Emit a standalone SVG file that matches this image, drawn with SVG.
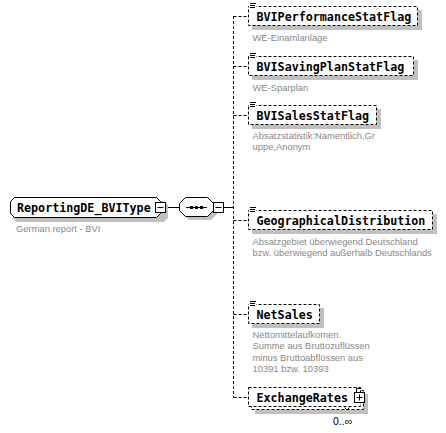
<svg xmlns="http://www.w3.org/2000/svg" width="446" height="433" viewBox="0 0 446 433">
<style>
.bg{fill:#fff}
.sh{fill:#c0c0c0}
.box{fill:#fff;stroke:#000;stroke-width:1}
.opt{fill:#fff;stroke:#000;stroke-width:1;stroke-dasharray:3,2}
.name{font-family:"DejaVu Sans Mono","Liberation Mono",monospace;font-weight:bold;font-size:11.7px;fill:#000}
.desc{font-family:"Liberation Sans","DejaVu Sans",sans-serif;font-size:9.4px;fill:#888}
.occ{font-family:"Liberation Sans","DejaVu Sans",sans-serif;font-size:10.5px;fill:#000}
.ln{stroke:#000;stroke-width:1;fill:none}
.dl{stroke:#000;stroke-width:1;fill:none;stroke-dasharray:3,2}
.ic{stroke:#000;stroke-width:1}
</style>
<rect class="bg" x="0" y="0" width="446" height="433"/>
<g id="connectors">
  <line class="ln" x1="165.5" y1="207.5" x2="179.5" y2="207.5"/>
  <line class="ln" x1="223.5" y1="207.5" x2="233.5" y2="207.5"/>
  <line class="dl" x1="233.5" y1="16" x2="233.5" y2="397"/>
  <line class="dl" x1="233.5" y1="16.5" x2="248.5" y2="16.5"/>
  <line class="dl" x1="233.5" y1="66.5" x2="248.5" y2="66.5"/>
  <line class="dl" x1="233.5" y1="115.5" x2="248.5" y2="115.5"/>
  <line class="dl" x1="233.5" y1="220.5" x2="248.5" y2="220.5"/>
  <line class="dl" x1="233.5" y1="314.5" x2="248.5" y2="314.5"/>
  <line class="dl" x1="233.5" y1="397.5" x2="248.5" y2="397.5"/>
</g>
<g id="root">
  <path class="sh" d="M17 201 H164 L168 205 V218 L164 222 H17 L13 218 V205 Z"/>
  <path class="box" d="M14.5 197.5 H156.5 L160.5 201.5 V213.5 L156.5 217.5 H14.5 L10.5 213.5 V201.5 Z"/>
  <text class="name" x="17" y="212">ReportingDE_BVIType</text>
  <rect class="box" x="155.5" y="202.5" width="10" height="10"/>
  <line class="ln" x1="157.5" y1="207.5" x2="163.5" y2="207.5"/>
  <text class="desc" x="16" y="232">German report - BVI</text>
</g>
<g id="sequence">
  <path class="sh" d="M189 201 H211 L217 207 V214 L211 220 H189 L183 214 V207 Z"/>
  <path class="box" d="M185.5 197.5 H207.5 L213.5 203.5 V210.5 L207.5 216.5 H185.5 L179.5 210.5 V203.5 Z"/>
  <line class="ln" x1="186" y1="207.5" x2="207" y2="207.5"/>
  <rect x="190" y="206" width="3" height="3" fill="#000"/>
  <rect x="195" y="206" width="3" height="3" fill="#000"/>
  <rect x="200" y="206" width="3" height="3" fill="#000"/>
  <rect class="box" x="213.5" y="202.5" width="10" height="10"/>
  <line class="ln" x1="215.5" y1="207.5" x2="221.5" y2="207.5"/>
</g>
<g id="BVIPerformanceStatFlag">
  <rect class="sh" x="252" y="10" width="170" height="20"/>
  <rect class="opt" x="248.5" y="6.5" width="169" height="19"/>
  <rect class="bg" x="249" y="2" width="7" height="7"/>
  <line class="ic" x1="250" y1="3.5" x2="256" y2="3.5"/><line class="ic" x1="250" y1="5.5" x2="255" y2="5.5"/><line class="ic" x1="250" y1="7.5" x2="255" y2="7.5"/>
  <text class="name" x="256.5" y="20.5">BVIPerformanceStatFlag</text>
  <text class="desc" x="252.5" y="41">WE-Einamlanlage</text>
</g>
<g id="BVISavingPlanStatFlag">
  <rect class="sh" x="252" y="60" width="166" height="20"/>
  <rect class="opt" x="248.5" y="56.5" width="165" height="19"/>
  <rect class="bg" x="249" y="52" width="7" height="7"/>
  <line class="ic" x1="250" y1="53.5" x2="256" y2="53.5"/><line class="ic" x1="250" y1="55.5" x2="255" y2="55.5"/><line class="ic" x1="250" y1="57.5" x2="255" y2="57.5"/>
  <text class="name" x="256.5" y="70.5">BVISavingPlanStatFlag</text>
  <text class="desc" x="252.5" y="91">WE-Sparplan</text>
</g>
<g id="BVISalesStatFlag">
  <rect class="sh" x="252" y="109" width="129" height="20"/>
  <rect class="opt" x="248.5" y="105.5" width="128" height="19"/>
  <rect class="bg" x="249" y="101" width="7" height="7"/>
  <line class="ic" x1="250" y1="102.5" x2="256" y2="102.5"/><line class="ic" x1="250" y1="104.5" x2="255" y2="104.5"/><line class="ic" x1="250" y1="106.5" x2="255" y2="106.5"/>
  <text class="name" x="256.5" y="119.5">BVISalesStatFlag</text>
  <text class="desc" x="252.5" y="139">Absatzstatistik:Namentlich,Gr</text>
  <text class="desc" x="252.5" y="150">uppe,Anonym</text>
</g>
<g id="GeographicalDistribution">
  <rect class="sh" x="252" y="214" width="185" height="20"/>
  <rect class="opt" x="248.5" y="210.5" width="184" height="19"/>
  <rect class="bg" x="249" y="206" width="7" height="7"/>
  <line class="ic" x1="250" y1="207.5" x2="256" y2="207.5"/><line class="ic" x1="250" y1="209.5" x2="255" y2="209.5"/><line class="ic" x1="250" y1="211.5" x2="255" y2="211.5"/>
  <text class="name" x="256.5" y="224.5">GeographicalDistribution</text>
  <text class="desc" x="252.5" y="245">Absatzgebiet überwiegend Deutschland</text>
  <text class="desc" x="252.5" y="256">bzw. überwiegend außerhalb Deutschlands</text>
</g>
<g id="NetSales">
  <rect class="sh" x="252" y="308" width="72" height="20"/>
  <rect class="opt" x="248.5" y="304.5" width="71" height="19"/>
  <rect class="bg" x="249" y="300" width="7" height="7"/>
  <line class="ic" x1="250" y1="301.5" x2="256" y2="301.5"/><line class="ic" x1="250" y1="303.5" x2="255" y2="303.5"/><line class="ic" x1="250" y1="305.5" x2="255" y2="305.5"/>
  <text class="name" x="256.5" y="318.5">NetSales</text>
  <text class="desc" x="252.5" y="338">Nettomittelaufkomen.</text>
  <text class="desc" x="252.5" y="349.3">Summe aus Bruttozuflüssen</text>
  <text class="desc" x="252.5" y="360.6">minus Bruttoabflüssen aus</text>
  <text class="desc" x="252.5" y="371.9">10391 bzw. 10393</text>
</g>
<g id="ExchangeRates">
  <rect class="sh" x="255" y="394" width="113" height="20"/>
  <rect class="opt" x="251.5" y="390.5" width="112" height="19"/>
  <rect class="opt" x="248.5" y="387.5" width="112" height="19"/>
  <text class="name" x="256.5" y="401.5">ExchangeRates</text>
  <path class="ln" d="M356.5 392.5 V388.5 H361.5"/>
  <rect class="box" x="354.5" y="392.5" width="10" height="10"/>
  <line class="ln" x1="356.5" y1="397.5" x2="362.5" y2="397.5"/>
  <line class="ln" x1="359.5" y1="394.5" x2="359.5" y2="400.5"/>
  <path class="ln" d="M344.5 407.5 L347 410 L349.5 407.5" stroke="#555"/>
  <text class="occ" x="333" y="425">0..∞</text>
</g>
</svg>
